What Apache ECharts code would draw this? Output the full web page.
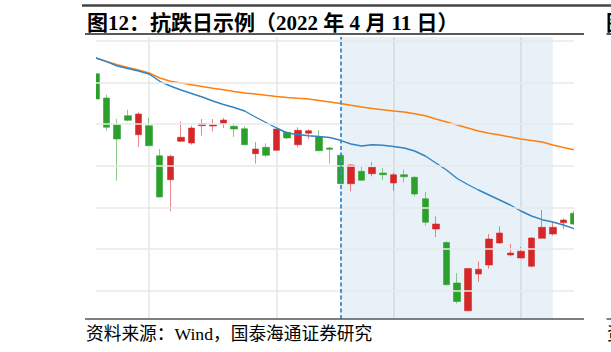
<!DOCTYPE html>
<html><head><meta charset="utf-8">
<script src="https://cdn.jsdelivr.net/npm/echarts@6/dist/echarts.min.js"></script>
<style>html,body{margin:0;padding:0;background:#fff}#c{width:611px;height:352px}</style>
</head><body><div id="c"></div>
<script>
// ---- data ----
const dates = ['2022-03-07','2022-03-08','2022-03-09','2022-03-10','2022-03-11','2022-03-14','2022-03-15','2022-03-16','2022-03-17','2022-03-18',
  '2022-03-21','2022-03-22','2022-03-23','2022-03-24','2022-03-25','2022-03-28','2022-03-29','2022-03-30','2022-03-31','2022-04-01',
  '2022-04-06','2022-04-07','2022-04-08','2022-04-11','2022-04-12','2022-04-13','2022-04-14','2022-04-15','2022-04-18','2022-04-19',
  '2022-04-20','2022-04-21','2022-04-22','2022-04-25','2022-04-26','2022-04-27','2022-04-28','2022-04-29','2022-05-05','2022-05-06',
  '2022-05-09','2022-05-10','2022-05-11','2022-05-12','2022-05-13','2022-05-16'];
const opens  = [3420.8,3362.5,3298.4,3320.0,3274.4,3296.0,3224.0,3166.4,3258.6,3254.5,3296.0,3295.3,3300.8,3294.6,3288.8,3228.8,3244.2,3237.0,3280.2,3250.4,
  3277.8,3269.6,3242.5,3225.0,3156.8,3186.6,3180.8,3182.5,3158.5,3178.4,3172.2,3120.8,3048.1,3015.7,2918.5,2851.8,2940.1,2961.7,3014.5,2985.7,
  2978.5,2958.6,3025.8,3036.1,3063.2,3085.8];
const closes = [3360.1,3292.2,3264.1,3309.0,3324.1,3248.0,3124.9,3222.6,3268.2,3290.5,3300.8,3298.4,3309.7,3288.1,3250.4,3240.1,3225.0,3288.1,3266.5,3285.0,
  3284.0,3236.0,3239.4,3156.8,3201.7,3165.0,3196.2,3178.4,3178.4,3173.6,3132.1,3064.2,3060.1,2914.4,2874.1,2953.3,2951.4,3024.1,3038.5,2990.5,
  2994.6,3026.5,3052.2,3052.2,3069.7,3060.1];
const lows   = [3350.5,3284.0,3164.0,3306.6,3244.9,3246.6,3124.2,3090.6,3256.9,3250.4,3272.0,3282.6,3290.5,3268.9,3249.0,3204.8,3220.2,3236.0,3264.1,3244.2,
  3264.1,3234.6,3204.8,3156.1,3138.6,3164.0,3174.6,3166.4,3140.0,3160.2,3126.6,3056.5,3028.9,2913.0,2869.3,2850.6,2920.9,2952.8,3012.8,2982.1,
  2977.8,2956.2,3025.3,3032.0,3048.1,3057.7];
const highs  = [3423.7,3370.4,3312.1,3334.4,3328.2,3314.5,3240.1,3226.4,3306.6,3296.0,3312.1,3312.1,3314.5,3302.5,3294.6,3256.9,3253.8,3288.8,3282.6,3292.2,
  3286.9,3285.0,3244.9,3226.4,3204.1,3198.6,3208.9,3194.5,3182.5,3190.4,3174.6,3136.9,3078.6,3018.6,2942.0,2954.5,2970.1,3036.1,3054.6,3012.1,
  3004.9,3028.2,3093.7,3064.9,3073.3,3091.3];
const maShort = [3458.5,3449.6,3439.3,3433.3,3427.3,3420.1,3402.6,3391.3,3381.7,3373.3,3364.9,3355.3,3346.9,3339.7,3331.3,3316.9,3303.7,3290.5,3278.5,3274.9,
  3272.0,3270.1,3267.7,3261.0,3252.1,3247.3,3250.2,3249.0,3246.1,3242.5,3235.3,3223.3,3206.5,3189.7,3169.3,3154.9,3141.7,3129.7,3117.7,3105.7,
  3091.3,3079.3,3070.4,3064.9,3057.7,3048.8];
const maLong  = [3458.5,3450.1,3442.4,3435.7,3429.7,3422.5,3410.5,3402.6,3398.5,3394.4,3390.1,3385.8,3382.2,3378.1,3374.5,3372.1,3369.0,3366.1,3363.7,3361.8,
  3360.1,3356.5,3352.9,3349.3,3345.0,3340.9,3337.3,3334.4,3331.3,3328.9,3324.6,3319.8,3312.1,3304.9,3297.7,3290.5,3283.3,3277.8,3273.7,3268.9,
  3264.1,3260.5,3256.9,3249.7,3243.7,3238.4];
const yGridValues = [3500,3400,3300,3200,3100,3000,2900];
const xGridDates = ['2022-03-14','2022-03-30','2022-04-18','2022-05-09'];
const markDate = '2022-04-11';
const shadeEndDate = '2022-05-12';
const titleText = '图12：抗跌日示例（2022 年 4 月 11 日）';
const sourceText = '资料来源：Wind，国泰海通证券研究';
const nextTitleText = '图';
const nextSourceText = '资';

// ---- chart ----
const kData = dates.map((d, i) => [opens[i], closes[i], lows[i], highs[i]]);
const xGridIdx = xGridDates.map(d => dates.indexOf(d));
const chart = echarts.init(document.getElementById('c'), null, {renderer: 'svg'});
const serifCJK = "'Liberation Serif','Noto Sans CJK SC',serif";
const G = {left: 96, right: 37, top: 37, bottom: 33};
const W = 611, H = 352;
chart.setOption({
  animation: false,
  backgroundColor: '#ffffff',
  grid: G,
  xAxis: {
    type: 'category', data: dates, boundaryGap: false,
    axisLine: {show: false}, axisTick: {show: false}, axisLabel: {show: false},
    splitLine: {show: true, interval: (idx) => xGridIdx.indexOf(idx) >= 0,
      lineStyle: {color: '#e6e6e6', width: 1.5}}
  },
  yAxis: {
    type: 'value', min: 2832.1, max: 3508.9, scale: true,
    axisLine: {show: false}, axisTick: {show: false}, axisLabel: {show: false},
    splitLine: {show: false}
  },
  series: [
    {
      type: 'line', data: [], z: 1, silent: true,
      markArea: {silent: true, itemStyle: {color: 'rgba(31,119,180,0.1)'},
        data: [[{xAxis: markDate}, {xAxis: shadeEndDate}]]},
      markLine: {silent: true, symbol: ['none', 'none'], label: {show: false},
        lineStyle: {color: '#e9e9e9', width: 1.5, type: 'solid'},
        data: yGridValues.map(v => ({yAxis: v}))}
    },
    {
      type: 'candlestick', data: kData, z: 2, barWidth: 7, clip: true,
      itemStyle: {color: '#d62728', color0: '#2ca02c',
        borderColor: 'rgba(214,39,40,0.55)', borderColor0: 'rgba(44,160,44,0.55)', borderWidth: 1}
    },
    {
      type: 'line', data: maLong, z: 3, showSymbol: false, silent: true,
      lineStyle: {color: '#ff7f0e', width: 1.4}
    },
    {
      type: 'line', data: maShort, z: 3, showSymbol: false, silent: true,
      lineStyle: {color: '#2f84c4', width: 1.4}
    },
    {
      type: 'line', data: [], z: 4, silent: true,
      markLine: {silent: true, symbol: ['none', 'none'], label: {show: false},
        lineStyle: {color: '#3a8ccc', width: 1.8, type: [4, 2.5]},
        data: [{xAxis: markDate}]}
    }
  ],
  graphic: [
    // white margins outside the plot area (the plot clips its edge candles)
    {type: 'rect', z: 50, silent: true, shape: {x: 60, y: G.top, width: G.left - 60, height: H - G.top - G.bottom},
      style: {fill: '#fff'}},
    {type: 'rect', z: 50, silent: true, shape: {x: W - G.right, y: G.top, width: G.right, height: H - G.top - G.bottom},
      style: {fill: '#fff'}},
    {type: 'line', z: 60, shape: {x1: 82, y1: 5.5, x2: 611, y2: 5.5}, style: {stroke: '#444', lineWidth: 2.5}},
    {type: 'line', z: 60, shape: {x1: 85, y1: 34, x2: 584, y2: 34}, style: {stroke: '#222', lineWidth: 1.5}},
    {type: 'line', z: 60, shape: {x1: 606.5, y1: 34, x2: 611, y2: 34}, style: {stroke: '#222', lineWidth: 1.5}},
    {type: 'line', z: 60, shape: {x1: 85, y1: 319, x2: 584, y2: 319}, style: {stroke: '#555', lineWidth: 1.5}},
    {type: 'line', z: 60, shape: {x1: 606.5, y1: 319, x2: 611, y2: 319}, style: {stroke: '#555', lineWidth: 1.5}},
    {type: 'text', z: 60, x: 87, y: 23, style: {text: titleText, fill: '#000', fontSize: 21, fontWeight: 'bold',
      fontFamily: serifCJK, verticalAlign: 'middle'}},
    {type: 'text', z: 60, x: 606, y: 23, style: {text: nextTitleText, fill: '#000', fontSize: 21, fontWeight: 'bold',
      fontFamily: serifCJK, verticalAlign: 'middle'}},
    {type: 'text', z: 60, x: 86, y: 334, style: {text: sourceText, fill: '#000', fontSize: 17.7,
      fontFamily: serifCJK, verticalAlign: 'middle'}},
    {type: 'text', z: 60, x: 607, y: 334, style: {text: nextSourceText, fill: '#000', fontSize: 17.7,
      fontFamily: serifCJK, verticalAlign: 'middle'}}
  ]
});
</script></body></html>
